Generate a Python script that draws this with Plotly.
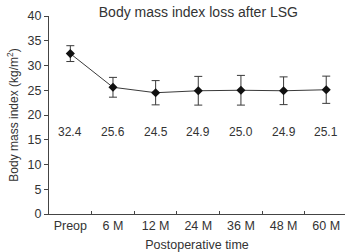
import plotly.graph_objects as go

categories = ["Preop", "6 M", "12 M", "24 M", "36 M", "48 M", "60 M"]
bmi_mean = [32.4, 25.6, 24.5, 24.9, 25.0, 24.9, 25.1]
bmi_sd = [1.6, 2.0, 2.45, 2.9, 3.0, 2.8, 2.75]
label_y = 16.5

fig = go.Figure()
fig.add_trace(go.Scatter(
    x=categories, y=bmi_mean, mode="lines+markers",
    line=dict(color="#3a3a3a", width=1),
    marker=dict(symbol="diamond", size=7, color="#111111"),
    error_y=dict(type="data", array=bmi_sd, visible=True, color="#3a3a3a",
                 thickness=1, width=4),
    showlegend=False,
))
for c, v in zip(categories, bmi_mean):
    fig.add_annotation(x=c, y=label_y, text=f"{v:.1f}", showarrow=False,
                       font=dict(size=12, color="#333333"))

fig.update_layout(
    width=345, height=252,
    margin=dict(l=49, r=0, t=16, b=38),
    paper_bgcolor="white", plot_bgcolor="white",
    font=dict(family="Liberation Sans, Arial, sans-serif", size=12, color="#333333"),
    title=dict(text="Body mass index loss after LSG", x=0.575, xanchor="center",
               y=0.952, yanchor="middle", font=dict(size=14, color="#333333")),
)
fig.update_xaxes(
    type="category", range=[-0.5, 6.44], showline=True, linecolor="#444444",
    linewidth=1, ticks="inside", tickson="boundaries", ticklen=3,
    tickcolor="#444444", showgrid=False, zeroline=False,
    tickfont=dict(size=12.5),
    title=dict(text="Postoperative time", standoff=9, font=dict(size=12.5)),
)
fig.update_yaxes(
    range=[0, 40], dtick=5, showline=True, linecolor="#444444", linewidth=1,
    ticks="outside", ticklen=4, tickcolor="#444444", showgrid=False,
    zeroline=False, tickfont=dict(size=12.5),
    title=dict(text="Body mass index (kg/m<sup>2</sup>)", standoff=6, font=dict(size=12)),
)

fig.write_html("out.html")
